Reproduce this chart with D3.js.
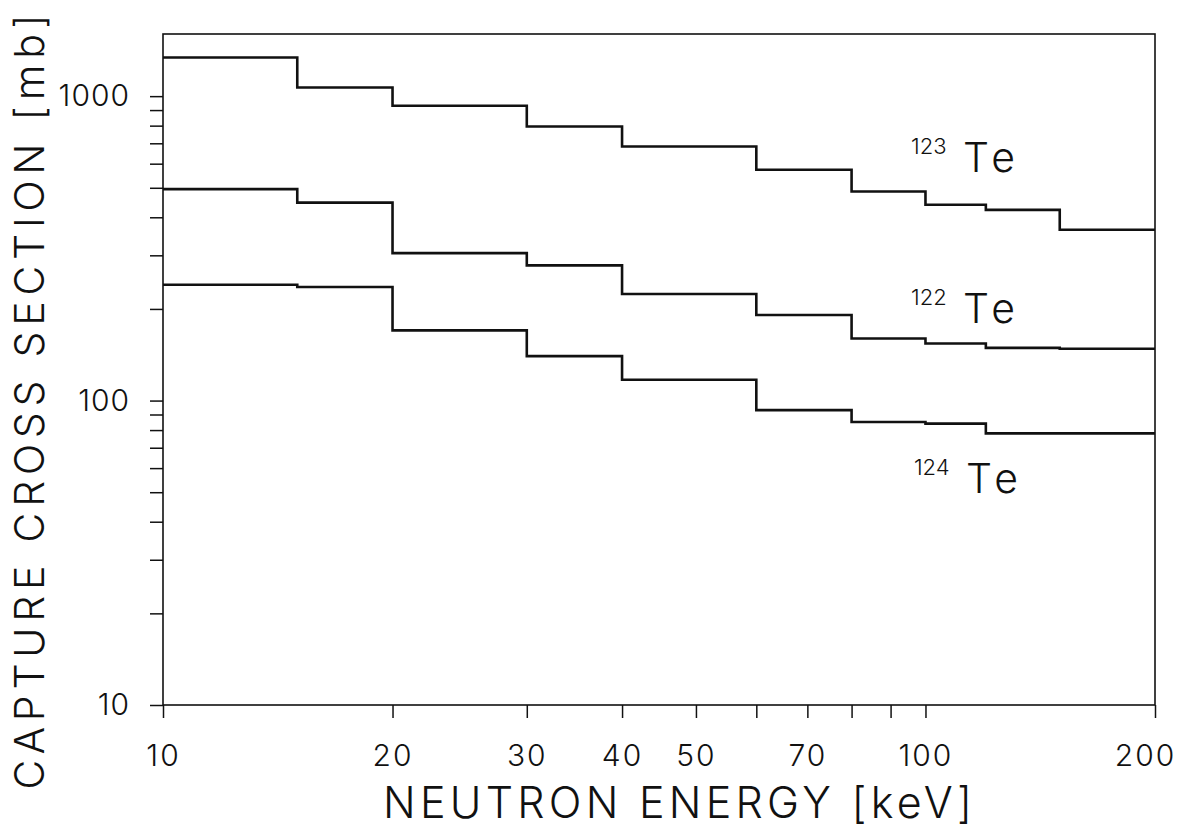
<!DOCTYPE html>
<html>
<head>
<meta charset="utf-8">
<script src="https://cdn.jsdelivr.net/npm/d3@7"></script>
<style>
  body { margin: 0; background: #fff; }
  text { font-family: Inter, "DejaVu Sans", sans-serif; font-weight: 300; fill: #111; }
</style>
</head>
<body>
<div id="chart"></div>
<script>
// bin edges of the neutron energy groups [keV]
var binEdges = [10, 15, 20, 30, 40, 60, 80, 100, 120, 150, 200];

// capture cross sections per energy group [mb]
var te123 = [1340, 1068, 930, 795, 683, 573, 486, 440, 423, 364];
var te122 = [495, 447, 305, 278, 224, 191, 160, 154, 149, 148];
var te124 = [240, 236, 170, 140, 117, 93, 85, 84, 78, 78];

// tick values and labels
var xTicks = [10, 20, 30, 40, 50, 60, 70, 80, 90, 100, 200];
var xLabels = [10, 20, 30, 40, 50, 70, 100, 200];
var yTicks = [10, 20, 30, 40, 50, 60, 70, 80, 90, 100, 200, 300, 400, 500, 600, 700, 800, 900, 1000];
var yLabels = [10, 100, 1000];

// isotope labels: mass number, energy and cross section where "Te" starts
var isotopes = ["123", "122", "124"];
var labelEnergy = [112, 112, 113];
var labelSigma = [564, 180, 49.7];

var width = 1190
    height = 830
    margin = {top: 34, right: 35, bottom: 125, left: 163}

var svg = d3.select("#chart")
  .append("svg")
    .attr("width", width)
    .attr("height", height)

var x = d3.scaleLog()
  .domain([10, 200])
  .range([margin.left, width - margin.right])

var y = d3.scaleLog()
  .domain([10, 1600])
  .range([height - margin.bottom, margin.top])

// frame
svg.append("rect")
  .attr("x", x(10))
  .attr("y", y(1600))
  .attr("width", x(200) - x(10))
  .attr("height", y(10) - y(1600))
  .attr("fill", "none")
  .attr("stroke", "#111")
  .attr("stroke-width", 1.6)

// x axis
var xAxis = svg.append("g")
  .attr("transform", "translate(0," + y(10) + ")")
  .call(d3.axisBottom(x)
    .tickValues(xTicks)
    .tickSize(13)
    .tickSizeOuter(0)
    .tickPadding(27)
    .tickFormat(function(d) { return xLabels.includes(d) ? d : ""; }))

xAxis.select(".domain").remove()
xAxis.selectAll("line").attr("stroke", "#111").attr("stroke-width", 1.5)
xAxis.selectAll("text")
  .style("font-size", "30px")
  .attr("fill", "#111")
  .attr("letter-spacing", "2")
xAxis.selectAll("text")
  .filter(function(d) { return d == 200; })
  .attr("dx", "-10")

// y axis
var yAxis = svg.append("g")
  .attr("transform", "translate(" + x(10) + ",0)")
  .call(d3.axisLeft(y)
    .tickValues(yTicks)
    .tickSize(13)
    .tickSizeOuter(0)
    .tickPadding(20)
    .tickFormat(function(d) { return yLabels.includes(d) ? d : ""; }))

yAxis.select(".domain").remove()
yAxis.selectAll("line").attr("stroke", "#111").attr("stroke-width", 1.5)
yAxis.selectAll("text")
  .style("font-size", "30px")
  .attr("fill", "#111")
  .attr("letter-spacing", "1")

// axis titles
svg.append("text")
  .attr("x", (383 + 972) / 2)
  .attr("y", 818)
  .attr("text-anchor", "middle")
  .attr("textLength", 589)
  .attr("lengthAdjust", "spacing")
  .style("font-size", "43px")
  .text("NEUTRON ENERGY [keV]")

svg.append("text")
  .attr("transform", "translate(44,402) rotate(-90)")
  .attr("text-anchor", "middle")
  .attr("textLength", 775)
  .attr("lengthAdjust", "spacing")
  .style("font-size", "41px")
  .text("CAPTURE CROSS SECTION [mb]")

// step lines
var line = d3.line()
  .x(function(d) { return x(d[0]); })
  .y(function(d) { return y(d[1]); })
  .curve(d3.curveStepAfter)

function steps(values) {
  var pts = values.map(function(v, i) { return [binEdges[i], v]; });
  pts.push([binEdges[binEdges.length - 1], values[values.length - 1]]);
  return pts;
}

svg.selectAll(".step")
  .data([te123, te122, te124])
  .enter()
  .append("path")
    .attr("class", "step")
    .attr("d", function(d) { return line(steps(d)); })
    .attr("fill", "none")
    .attr("stroke", "#111")
    .attr("stroke-width", 2.6)

// isotope labels
isotopes.forEach(function(iso, i) {
  var lx = x(labelEnergy[i]);
  var ly = y(labelSigma[i]);
  svg.append("text")
    .attr("x", lx - 52)
    .attr("y", ly - 18)
    .style("font-size", "22px")
    .text(iso)
  svg.append("text")
    .attr("x", lx)
    .attr("y", ly)
    .attr("textLength", 52)
    .attr("lengthAdjust", "spacing")
    .style("font-size", "41px")
    .text("Te")
});
</script>
</body>
</html>
